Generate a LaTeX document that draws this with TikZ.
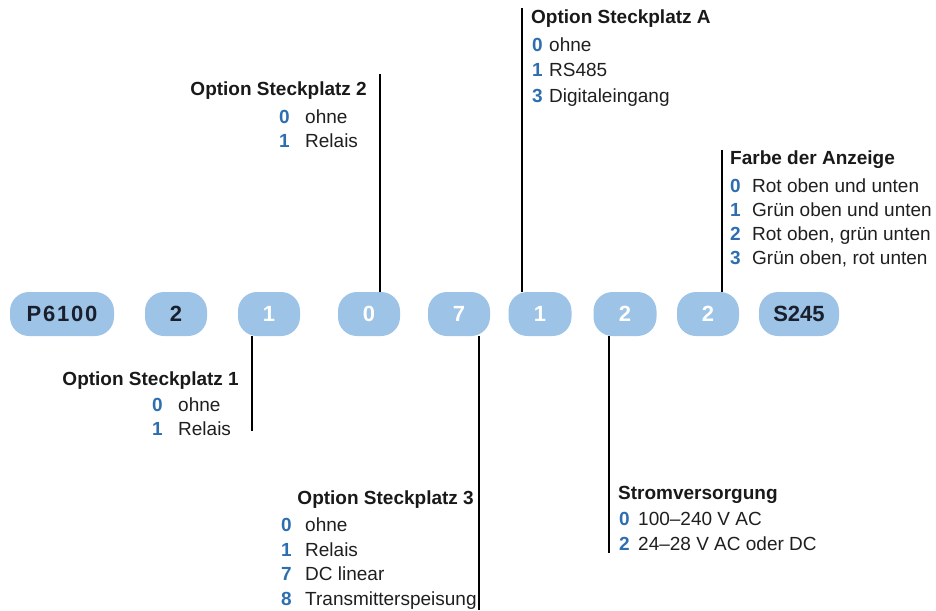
\documentclass[tikz,border=0pt]{standalone}
\usepackage{fontspec}
\setmainfont{Liberation Sans}
\definecolor{pillblue}{HTML}{9DC3E6}
\definecolor{numblue}{HTML}{2E6EB0}
\definecolor{darktxt}{HTML}{1A1F2E}
\begin{document}
\begin{tikzpicture}[x=1pt,y=-1pt,
  pill/.style={rounded corners=19pt, fill=pillblue, minimum height=44pt, inner sep=0pt,
    font=\fontsize{22}{24}\selectfont\bfseries, text=white},
  darkpill/.style={pill, text=darktxt},
  conn/.style={line width=2.4pt, black},
  ttl/.style={font=\fontsize{19}{23}\selectfont\bfseries, inner sep=0pt, text=black!90},
  itm/.style={font=\fontsize{19}{23}\selectfont, inner sep=0pt, text=black!88},
  num/.style={font=\fontsize{19}{23}\selectfont\bfseries, inner sep=0pt, text=numblue}]
\useasboundingbox (0,0) rectangle (936,610);

% pills
\node[darkpill, minimum width=104pt] (p0) at (62,314) {\addfontfeature{LetterSpace=8}P6100};
\node[darkpill, minimum width=62pt] (p1) at (176,314) {2};
\node[pill, minimum width=62pt] (p2) at (269,314) {1};
\node[pill, minimum width=62pt] (p3) at (369,314) {0};
\node[pill, minimum width=62pt] (p4) at (459,314) {7};
\node[pill, minimum width=63pt] (p5) at (540,314) {1};
\node[pill, minimum width=63pt] (p6) at (625,314) {2};
\node[pill, minimum width=62pt] (p7) at (708,314) {2};
\node[darkpill, minimum width=80pt] (p8) at (799,314) {S245};

% Option Steckplatz 2
\coordinate (c3) at (380,74);
\draw[conn] (c3) -- (c3 |- p3.north);
\node[ttl, anchor=base east] (t3) at (367,95) {Option Steckplatz 2};
\node[num, anchor=base west] (n3a) at (279,123) {0};
\node[itm, anchor=base west] (i3a) at (305,123) {ohne};
\node[num, anchor=base west] (n3b) at (279,147) {1};
\node[itm, anchor=base west] (i3b) at (305,147) {Relais};

% Option Steckplatz A
\coordinate (c5) at (522,8);
\draw[conn] (c5) -- (c5 |- p5.north);
\node[ttl, anchor=base west] (t5) at (531,24) {Option Steckplatz A};
\node[num, anchor=base west] (n5a) at (532,52) {0};
\node[itm, anchor=base west] (i5a) at (549,52) {ohne};
\node[num, anchor=base west] (n5b) at (532,77) {1};
\node[itm, anchor=base west] (i5b) at (549,77) {RS485};
\node[num, anchor=base west] (n5c) at (532,102) {3};
\node[itm, anchor=base west] (i5c) at (549,102) {Digitaleingang};

% Farbe der Anzeige
\coordinate (c7) at (722,150);
\draw[conn] (c7) -- (c7 |- p7.north);
\node[ttl, anchor=base west] (t7) at (730,164) {Farbe der Anzeige};
\node[num, anchor=base west] (n7a) at (730,192) {0};
\node[itm, anchor=base west] (i7a) at (752,192) {Rot oben und unten};
\node[num, anchor=base west] (n7b) at (730,216) {1};
\node[itm, anchor=base west] (i7b) at (752,216) {Grün oben und unten};
\node[num, anchor=base west] (n7c) at (730,240) {2};
\node[itm, anchor=base west] (i7c) at (752,240) {Rot oben, grün unten};
\node[num, anchor=base west] (n7d) at (730,264) {3};
\node[itm, anchor=base west] (i7d) at (752,264) {Grün oben, rot unten};

% Option Steckplatz 1
\coordinate (c2) at (252,431);
\draw[conn] (c2 |- p2.south) -- (c2);
\node[ttl, anchor=base east] (t2) at (239,385) {Option Steckplatz 1};
\node[num, anchor=base west] (n2a) at (152,411) {0};
\node[itm, anchor=base west] (i2a) at (178,411) {ohne};
\node[num, anchor=base west] (n2b) at (152,435) {1};
\node[itm, anchor=base west] (i2b) at (178,435) {Relais};

% Option Steckplatz 3
\coordinate (c4) at (479,610);
\draw[conn] (c4 |- p4.south) -- (c4);
\node[ttl, anchor=base east] (t4) at (474,504) {Option Steckplatz 3};
\node[num, anchor=base west] (n4a) at (281,531) {0};
\node[itm, anchor=base west] (i4a) at (305,531) {ohne};
\node[num, anchor=base west] (n4b) at (281,556) {1};
\node[itm, anchor=base west] (i4b) at (305,556) {Relais};
\node[num, anchor=base west] (n4c) at (281,580) {7};
\node[itm, anchor=base west] (i4c) at (305,580) {DC linear};
\node[num, anchor=base west] (n4d) at (281,605) {8};
\node[itm, anchor=base west] (i4d) at (305,605) {Transmitterspeisung};

% Stromversorgung
\coordinate (c6) at (609,553);
\draw[conn] (c6 |- p6.south) -- (c6);
\node[ttl, anchor=base west] (t6) at (618,499) {Stromversorgung};
\node[num, anchor=base west] (n6a) at (619,525) {0};
\node[itm, anchor=base west] (i6a) at (638,525) {100–240 V AC};
\node[num, anchor=base west] (n6b) at (619,550) {2};
\node[itm, anchor=base west] (i6b) at (638,550) {24–28 V AC oder DC};
\end{tikzpicture}
\end{document}
